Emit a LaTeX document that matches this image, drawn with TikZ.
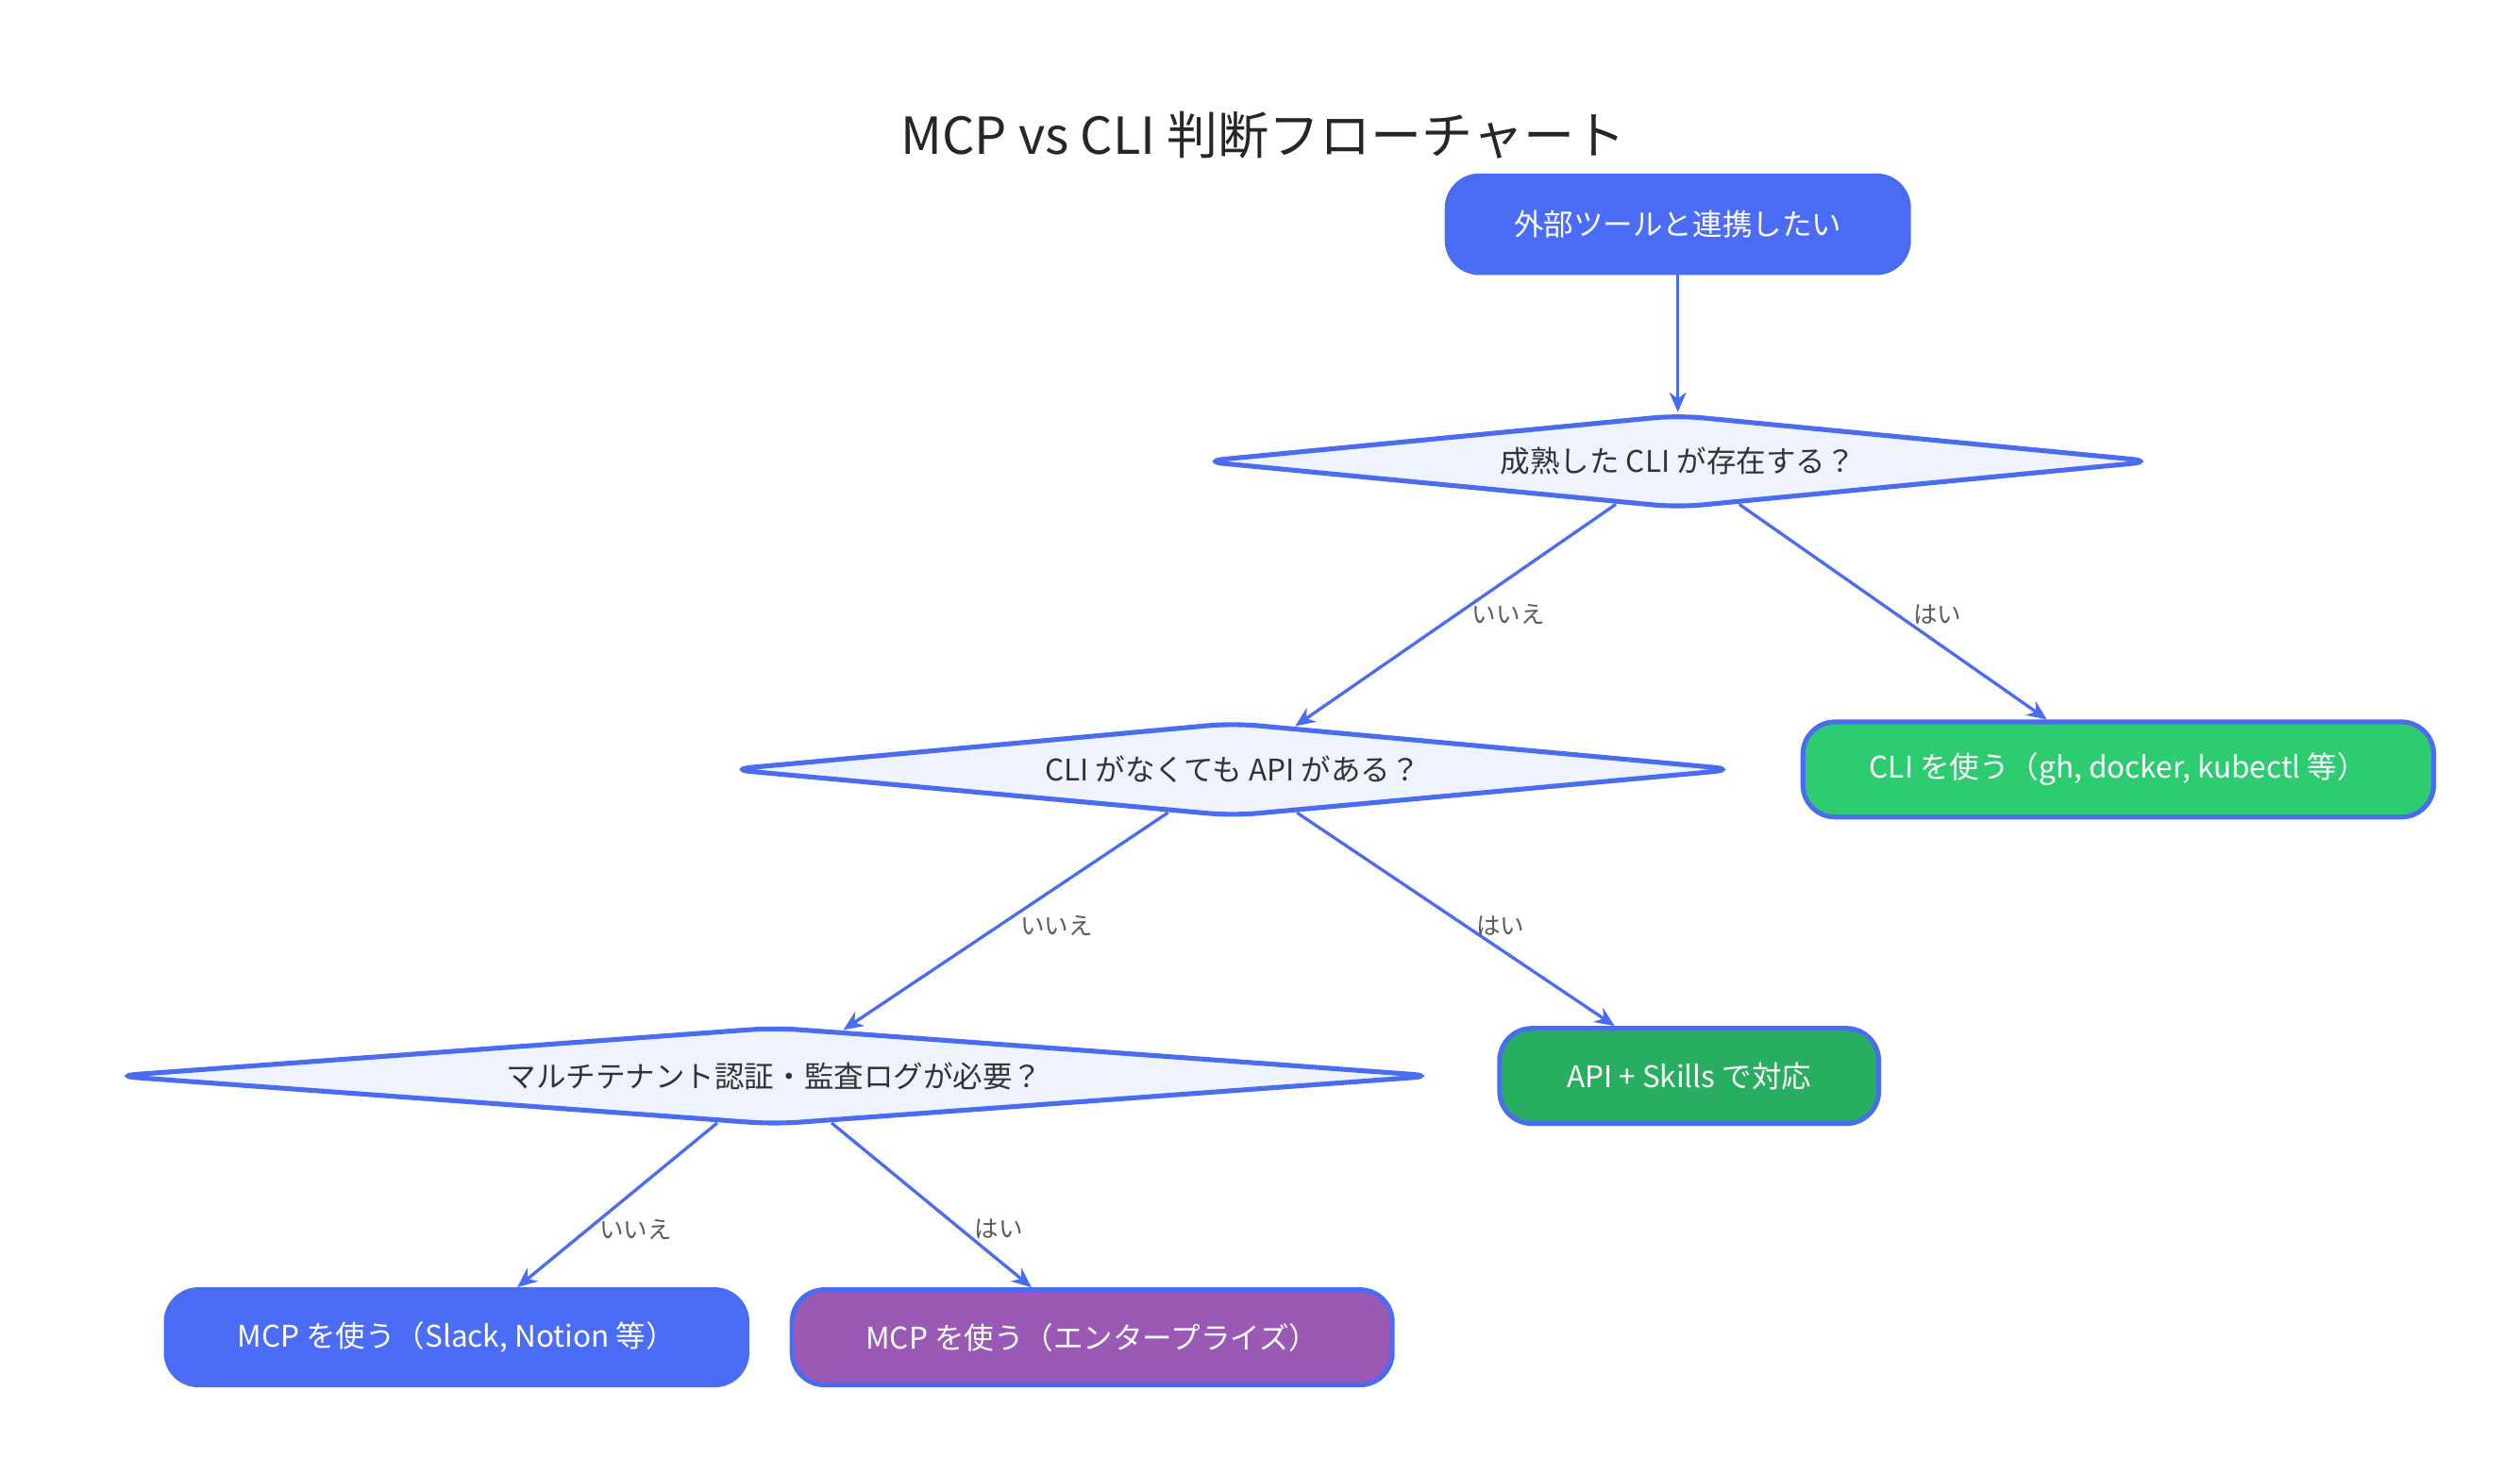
\documentclass[tikz,border=0pt]{standalone}
\usepackage{fontspec}
\setmainfont{Noto Sans CJK JP}
\usetikzlibrary{shapes.geometric,arrows.meta}
\definecolor{lineblue}{HTML}{4A6CF0}
\definecolor{startblue}{HTML}{4A6CF7}
\definecolor{diafill}{HTML}{EEF3FD}
\definecolor{cligreen}{HTML}{2ECC71}
\definecolor{apigreen}{HTML}{27AE60}
\definecolor{mcppurple}{HTML}{9B59B6}
\tikzset{
    box/.style={draw=lineblue,line width=1.7pt,rounded corners=0.4cm,text=white,font=\fontsize{10.5}{12}\selectfont,inner sep=0pt},
    decision/.style={diamond,draw=lineblue,line width=1.7pt,fill=diafill,rounded corners=0.3cm,text=black!80,font=\fontsize{10.5}{12}\selectfont,inner sep=0pt},
    flow/.style={draw=lineblue,line width=1.1pt,-{Stealth[length=7pt,width=6pt]}},
    answer/.style={text=black!65,font=\fontsize{8.5}{10}\selectfont}
}
\begin{document}
\begin{tikzpicture}[x=0.02cm,y=-0.02cm]
    \useasboundingbox (0,0) rectangle (1562,914);
    \node[font=\fontsize{18}{20}\selectfont,text=black!85] at (783,84) (title) {MCP vs CLI 判断フローチャート};

    \node[box,fill=startblue,minimum width=286*0.02cm,minimum height=60*0.02cm] at (1040,139) (start) {外部ツールと連携したい};

    \node[decision,aspect=5.38,minimum width=592*0.02cm] at (1040,286) (D1) {成熟した CLI が存在する？};
    \node[decision,aspect=5.59,minimum width=626*0.02cm] at (764,477) (D2) {CLI がなくても API がある？};
    \node[decision,aspect=7.6,minimum width=820*0.02cm] at (480,667) (D3) {マルチテナント認証・監査ログが必要？};

    \node[box,fill=cligreen,minimum width=391*0.02cm,minimum height=59*0.02cm] at (1313,477) (cli) {CLI を使う（gh, docker, kubectl 等）};
    \node[box,fill=apigreen,minimum width=235*0.02cm,minimum height=59*0.02cm] at (1047,667) (api) {API + Skills で対応};
    \node[box,fill=startblue,minimum width=360*0.02cm,minimum height=59*0.02cm] at (283,829) (mcp) {MCP を使う（Slack, Notion 等）};
    \node[box,fill=mcppurple,minimum width=372*0.02cm,minimum height=59*0.02cm] at (677,829) (mcpent) {MCP を使う（エンタープライズ）};

    \draw[flow] (start) -- (D1);
    \draw[flow] (D1) -- (D2);
    \draw[flow] (D1) -- (cli);
    \draw[flow] (D2) -- (D3);
    \draw[flow] (D2) -- (api);
    \draw[flow] (D3) -- (mcp);
    \draw[flow] (D3) -- (mcpent);

    \node[answer] at (935,381) (n1) {いいえ};
    \node[answer] at (1201,381) (y1) {はい};
    \node[answer] at (655,574) (n2) {いいえ};
    \node[answer] at (930,574) (y2) {はい};
    \node[answer] at (394,762) (n3) {いいえ};
    \node[answer] at (619,762) (y3) {はい};
\end{tikzpicture}
\end{document}
